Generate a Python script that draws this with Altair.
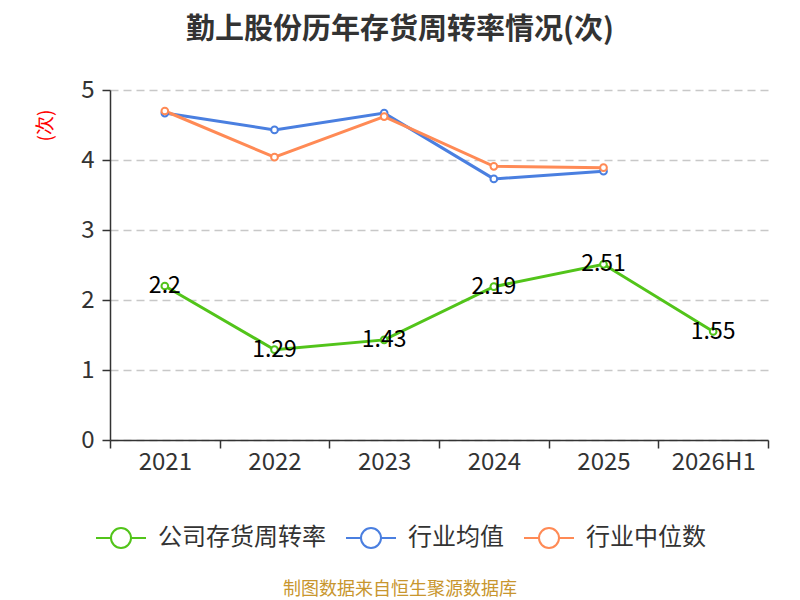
import altair as alt
import pandas as pd

categories = ["2021", "2022", "2023", "2024", "2025", "2026H1"]
company = [2.2, 1.29, 1.43, 2.19, 2.51, 1.55]
industry_avg = [4.67, 4.43, 4.67, 3.73, 3.84, None]
industry_median = [4.70, 4.04, 4.62, 3.91, 3.89, None]

series_names = ["公司存货周转率", "行业均值", "行业中位数"]
series_colors = ["#52c41a", "#4a7fe0", "#ff8a55"]

rows = []
for name, vals in zip(series_names, [company, industry_avg, industry_median]):
    for c, v in zip(categories, vals):
        if v is not None:
            rows.append({"year": c, "series": name, "value": v})
df = pd.DataFrame(rows)

FONT = "Noto Sans CJK SC"
W, H = 658, 350

x_enc = alt.X("year:N", sort=categories, scale=alt.Scale(domain=categories, paddingInner=0, paddingOuter=0),
              axis=alt.Axis(title=None, labelAngle=0, labelFontSize=24, labelColor="#333333", labelFont=FONT,
                            tickBand="extent", tickSize=8, tickColor="#333333", tickWidth=1.5,
                            domainColor="#333333", domainWidth=1.5, labelPadding=2, grid=False))
y_enc = alt.Y("value:Q", scale=alt.Scale(domain=[0, 5], nice=False, zero=True),
              axis=alt.Axis(title="(次)", titleColor="red", titleFontSize=19, titleFontWeight="normal",
                            titleFont=FONT, titleAngle=-90, titleX=-65, titleY=35, titleAlign="center",
                            titleBaseline="middle",
                            values=[0, 1, 2, 3, 4, 5], labelFontSize=24, labelColor="#333333", labelFont=FONT,
                            tickSize=8, tickColor="#333333", tickWidth=1.5, domainColor="#333333", domainWidth=1.5,
                            labelPadding=8, grid=True, gridDash=[8, 5], gridColor="#c8c8c8", gridWidth=1.5))

color_scale = alt.Scale(domain=series_names, range=series_colors)

legend_path = "M-1,0L-0.4,0M0.4,0L1,0M-0.4,0A0.4,0.4,0,1,1,0.4,0A0.4,0.4,0,1,1,-0.4,0"

lines = alt.Chart(df).mark_line(strokeWidth=3).encode(
    x=x_enc, y=y_enc,
    color=alt.Color("series:N", scale=color_scale, sort=series_names,
                    legend=alt.Legend(title=None, orient="none", legendX=-15, legendY=422, direction="horizontal",
                                      symbolType=legend_path, symbolSize=2500, symbolStrokeWidth=2,
                                      symbolFillColor="white", labelFontSize=24, labelFont=FONT,
                                      labelColor="#333333", labelOffset=11, columnPadding=16, labelLimit=400)),
)

points = alt.Chart(df).mark_point(shape="circle", filled=True, fill="white", size=45, strokeWidth=2, opacity=1).encode(
    x=x_enc, y=y_enc,
    stroke=alt.Stroke("series:N", scale=color_scale, legend=None),
)

labels = alt.Chart(df[df["series"] == series_names[0]]).mark_text(
    fontSize=23, font=FONT, color="black", align="center", baseline="middle"
).encode(x=x_enc, y=y_enc, text=alt.Text("value:Q"))

source = alt.Chart(pd.DataFrame({"t": ["制图数据来自恒生聚源数据库"]})).mark_text(
    fontSize=18, font=FONT, color="#c8962e", align="center", baseline="middle"
).encode(x=alt.value(290), y=alt.value(500), text="t:N")

chart = alt.layer(lines, points, labels, source).properties(
    width=W, height=H,
    autosize=alt.AutoSizeParams(type="none"),
    padding={"left": 102, "top": 82, "right": 24, "bottom": 160},
    background="white",
    title=alt.Title("勤上股份历年存货周转率情况(次)", fontSize=29, fontWeight="bold", font=FONT,
                    color="#333333", anchor="middle", dx=-39, dy=4, offset=8, baseline="bottom"),
).configure_view(stroke=None)

chart.save("out.html", embed_options={"renderer": "svg", "actions": False})
